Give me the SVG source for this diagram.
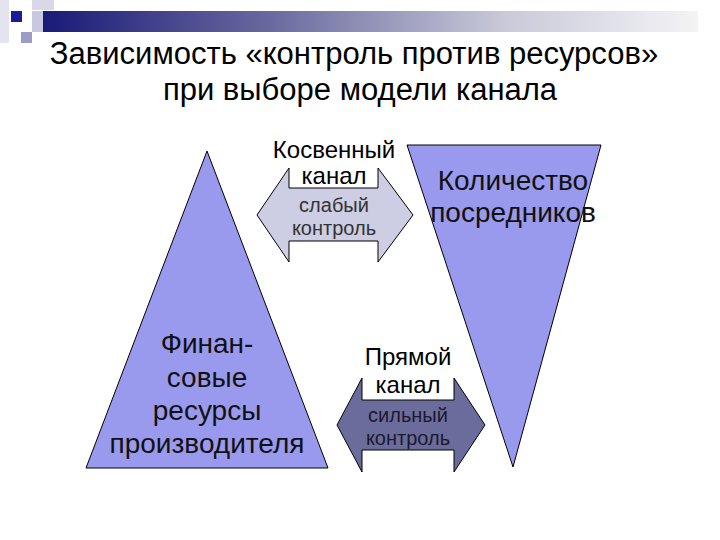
<svg xmlns="http://www.w3.org/2000/svg" width="720" height="540" viewBox="0 0 720 540">
<defs>
<linearGradient id="bar" x1="0" y1="0" x2="1" y2="0">
<stop offset="0" stop-color="#1a1a78"/>
<stop offset="0.35" stop-color="#6a6aa0"/>
<stop offset="0.7" stop-color="#c8c8d8"/>
<stop offset="1" stop-color="#f4f4f6"/>
</linearGradient>
<style>
text{font-family:"Liberation Sans",Arial,sans-serif;text-anchor:middle;}
.tri{fill:#9999ee;stroke:#000;stroke-width:1;}
.big{font-size:28px;fill:#111;}
.lbl{font-size:24px;fill:#000;}
.sm{font-size:20px;}
</style>
</defs>
<rect width="720" height="540" fill="#fff"/>
<g id="decor">
<rect x="43" y="11" width="655" height="21" fill="url(#bar)"/>
<rect x="0" y="0" width="9" height="43" fill="#e4e4f0"/>
<rect x="32" y="0" width="22" height="10" fill="#d8d8ea"/>
<rect x="32" y="11" width="11" height="21" fill="#c8c8e0"/>
<rect x="11" y="11" width="11" height="11" fill="#1c1c9a"/>
<rect x="21" y="32" width="11" height="11" fill="#9c9cc8"/>
</g>
<g id="title">
<text x="354" y="64" font-size="31">Зависимость «контроль против ресурсов»</text>
<text x="360" y="100" font-size="31">при выборе модели канала</text>
</g>
<g id="resources">
<polygon class="tri" points="207,151 86,468 328,468"/>
<text class="big" x="207" y="353">Финан-</text>
<text class="big" x="207" y="387">совые</text>
<text class="big" x="207" y="420">ресурсы</text>
<text class="big" x="207" y="453">производителя</text>
</g>
<g id="intermediaries">
<polygon class="tri" points="407,145 601,145 513,467"/>
<text class="big" x="513" y="190">Количество</text>
<text class="big" x="513" y="222">посредников</text>
</g>
<g id="indirect">
<polygon points="257,215 289,168 289,188 378,188 378,168 413,215 378,262 378,241 289,241 289,262" fill="#cdcde4" stroke="#000" stroke-width="1"/>
<text class="lbl" x="334" y="158">Косвенный</text>
<text class="lbl" x="334" y="184">канал</text>
<text class="sm" x="334" y="212" fill="#333">слабый</text>
<text class="sm" x="334" y="235" fill="#333">контроль</text>
</g>
<g id="direct">
<polygon points="337,425 362,378 362,400 454,400 454,378 485,425 454,472 454,450 362,450 362,472" fill="#6c6c9c" stroke="#000" stroke-width="1"/>
<text class="lbl" x="408" y="365">Прямой</text>
<text class="lbl" x="408" y="393">канал</text>
<text class="sm" x="408" y="422" fill="#1a1a2e">сильный</text>
<text class="sm" x="408" y="445" fill="#1a1a2e">контроль</text>
</g>
</svg>
